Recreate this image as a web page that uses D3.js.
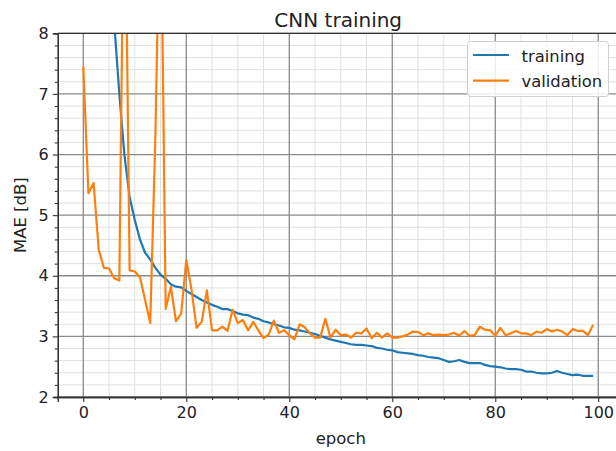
<!DOCTYPE html>
<html><head><meta charset="utf-8">
<script src="https://cdn.jsdelivr.net/npm/d3@7"></script>
<style>body{margin:0;background:#fff}svg{display:block}text{font-family:"DejaVu Sans",sans-serif;fill:#222}</style>
</head><body><svg id="c" width="616" height="451"></svg>
<script>
const title = "CNN training";
const xLabel = "epoch";
const yLabel = "MAE [dB]";
const seriesNames = ["training", "validation"];
const seriesColors = ["#1f77b4", "#ff7f0e"];
const xTicks = [0, 20, 40, 60, 80, 100];
const yTicks = [2, 3, 4, 5, 6, 7, 8];
const training = [22, 18, 15, 12.8, 11, 9.5, 8.18, 7.0, 5.98, 5.3,
  4.92, 4.6, 4.38, 4.27, 4.13, 4.02, 3.95, 3.86, 3.82, 3.81,
  3.75, 3.70, 3.65, 3.60, 3.56, 3.52, 3.49, 3.45, 3.45, 3.42,
  3.38, 3.36, 3.35, 3.31, 3.29, 3.25, 3.23, 3.20, 3.18, 3.15,
  3.14, 3.11, 3.10, 3.08, 3.06, 3.04, 3.01, 2.98, 2.95, 2.93,
  2.91, 2.89, 2.87, 2.86, 2.86, 2.85, 2.84, 2.81, 2.80, 2.78,
  2.77, 2.74, 2.73, 2.72, 2.71, 2.69, 2.68, 2.66, 2.65, 2.64,
  2.61, 2.58, 2.59, 2.61, 2.58, 2.56, 2.56, 2.56, 2.53, 2.51,
  2.50, 2.49, 2.47, 2.46, 2.46, 2.45, 2.42, 2.42, 2.40, 2.39,
  2.39, 2.40, 2.43, 2.40, 2.38, 2.36, 2.37, 2.35, 2.35, 2.35];
const validation = [7.45, 5.36, 5.53, 4.43, 4.13, 4.12, 3.96, 3.92, 11.4, 4.09,
  4.07, 3.98, 3.60, 3.22, 6.3, 10.8, 3.45, 3.82, 3.25, 3.37,
  4.26, 3.78, 3.14, 3.24, 3.76, 3.10, 3.10, 3.16, 3.09, 3.44,
  3.22, 3.27, 3.10, 3.24, 3.10, 2.97, 3.03, 3.26, 3.06, 3.10,
  3.02, 2.95, 3.20, 3.15, 3.05, 2.98, 2.98, 3.29, 2.98, 3.11,
  3.02, 3.03, 2.98, 3.06, 3.05, 3.13, 2.97, 3.06, 2.98, 3.05,
  2.98, 2.98, 3.00, 3.03, 3.08, 3.07, 3.02, 3.05, 3.02, 3.03,
  3.02, 3.03, 3.06, 3.01, 3.09, 3.01, 3.02, 3.16, 3.11, 3.10,
  3.01, 3.14, 3.02, 3.05, 3.09, 3.05, 3.05, 3.02, 3.08, 3.06,
  3.12, 3.08, 3.11, 3.08, 3.02, 3.12, 3.09, 3.09, 3.02, 3.19];
const epochs = d3.range(training.length);

const L = 57.8, R = 618.6, T = 33.3, B = 397;
const svg = d3.select("#c");
const x = d3.scaleLinear().domain([-4.95, 103.95]).range([L, R]);
const y = d3.scaleLinear().domain([2, 8]).range([B, T]);

const xMinor = d3.range(0, 105, 5).filter(v => v % 20 !== 0);
const yMinor = d3.range(2, 8.0001, 0.2).map(v => +v.toFixed(1)).filter(v => Math.abs(v - Math.round(v)) > 1e-6);

const g = svg.append("g");
g.selectAll(".mgx").data(xMinor).join("line").attr("x1", d => x(d)).attr("x2", d => x(d)).attr("y1", T).attr("y2", B).attr("stroke", "#e0e0e0").attr("stroke-width", 1);
g.selectAll(".mgy").data(yMinor).join("line").attr("x1", L).attr("x2", R).attr("y1", d => y(d)).attr("y2", d => y(d)).attr("stroke", "#e0e0e0").attr("stroke-width", 1);
g.selectAll(".gx").data(xTicks).join("line").attr("x1", d => x(d)).attr("x2", d => x(d)).attr("y1", T).attr("y2", B).attr("stroke", "#8a8a8a").attr("stroke-width", 1.3);
g.selectAll(".gy").data(yTicks).join("line").attr("x1", L).attr("x2", R).attr("y1", d => y(d)).attr("y2", d => y(d)).attr("stroke", "#8a8a8a").attr("stroke-width", 1.3);

svg.append("defs").append("clipPath").attr("id", "clip").append("rect").attr("x", L).attr("y", T).attr("width", R - L).attr("height", B - T);
const line = d3.line().x((d, i) => x(epochs[i])).y(d => y(d));
[training, validation].forEach((s, k) => {
  svg.append("path").datum(s).attr("d", line).attr("fill", "none").attr("stroke", seriesColors[k]).attr("stroke-width", 2.2).attr("stroke-linejoin", "round").attr("clip-path", "url(#clip)");
});

const xAxis = d3.axisBottom(x).tickValues(xTicks).tickSize(5).tickPadding(5).tickFormat(d3.format("d"));
const xAxisMinor = d3.axisBottom(x).tickValues(xMinor).tickSize(3).tickFormat("");
const yAxis = d3.axisLeft(y).tickValues(yTicks).tickSize(5).tickPadding(4).tickFormat(d3.format("d"));
const yAxisMinor = d3.axisLeft(y).tickValues(yMinor).tickSize(3).tickFormat("");
function style(sel) {
  sel.select(".domain").attr("stroke", "#333").attr("stroke-width", 1.3);
  sel.selectAll(".tick line").attr("stroke", "#333").attr("stroke-width", 1.1);
  sel.selectAll(".tick text").attr("font-family", "DejaVu Sans").attr("font-size", 16).attr("fill", "#222");
}
svg.append("g").attr("transform", `translate(0,${B})`).call(xAxisMinor).call(style);
svg.append("g").attr("transform", `translate(0,${B})`).call(xAxis).call(style);
svg.append("g").attr("transform", `translate(${L},0)`).call(yAxisMinor).call(style);
svg.append("g").attr("transform", `translate(${L},0)`).call(yAxis).call(style);
svg.append("line").attr("x1", L).attr("x2", R).attr("y1", T).attr("y2", T).attr("stroke", "#333").attr("stroke-width", 1.3);
svg.append("line").attr("x1", R).attr("x2", R).attr("y1", T).attr("y2", B).attr("stroke", "#333").attr("stroke-width", 1.3);

svg.append("text").attr("x", (L + R) / 2).attr("y", 27).attr("text-anchor", "middle").attr("font-size", 20).text(title);
svg.append("text").attr("x", x(50)).attr("y", 444).attr("text-anchor", "middle").attr("font-size", 16.5).text(xLabel);
svg.append("text").attr("transform", `translate(26,${(T + B) / 2}) rotate(-90)`).attr("text-anchor", "middle").attr("font-size", 16.5).text(yLabel);

const lg = svg.append("g");
lg.append("rect").attr("x", 467.5).attr("y", 41.5).attr("width", 141).attr("height", 55).attr("rx", 3).attr("fill", "#fff").attr("fill-opacity", 0.85).attr("stroke", "#d0d0d0");
seriesNames.forEach((n, k) => {
  const yy = 55 + k * 25.7;
  lg.append("line").attr("x1", 473).attr("x2", 509).attr("y1", yy).attr("y2", yy).attr("stroke", seriesColors[k]).attr("stroke-width", 2.2);
  lg.append("text").attr("x", 521.5).attr("y", yy + 6.5).attr("font-size", 16.4).text(n);
});
</script></body></html>
